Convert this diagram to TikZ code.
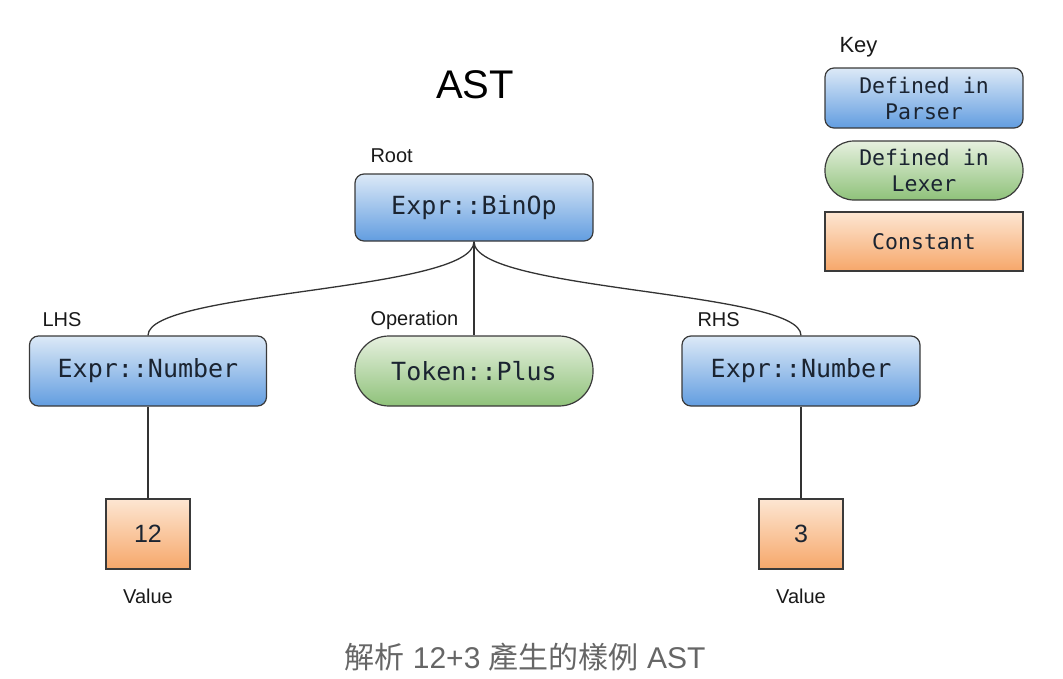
\documentclass[tikz,border=0pt]{standalone}
\usepackage{fontspec}
\setmainfont{Liberation Sans}
\setmonofont{DejaVu Sans Mono}
\newfontfamily\cjkfont{Noto Sans CJK TC}
\definecolor{bordergray}{HTML}{3A3A3A}
\definecolor{linegray}{HTML}{333333}
\definecolor{bluetop}{HTML}{DCE9F7}
\definecolor{bluebot}{HTML}{629DE0}
\definecolor{greentop}{HTML}{E6F0DF}
\definecolor{greenbot}{HTML}{8FC27A}
\definecolor{orangetop}{HTML}{FDE6D2}
\definecolor{orangebot}{HTML}{F6A76A}
\definecolor{textdark}{HTML}{1B2431}
\definecolor{captiongray}{HTML}{666666}
\tikzset{
  boxbase/.style={draw=bordergray, line width=1.2pt, inner sep=0pt, text=textdark, align=center},
  parserbox/.style={boxbase, rounded corners=9pt, top color=bluetop, bottom color=bluebot},
  lexerbox/.style={boxbase, rounded corners=29pt, top color=greentop, bottom color=greenbot},
  constbox/.style={boxbase, top color=orangetop, bottom color=orangebot},
  bigmono/.style={font=\ttfamily\fontsize{25}{28}\selectfont},
  keymono/.style={font=\ttfamily\fontsize{21.5}{26}\selectfont},
  lbl/.style={font=\fontsize{20}{24}\selectfont, text=black!90},
  conn/.style={draw=linegray, line width=1.3pt}
}
\begin{document}
\begin{tikzpicture}[x=1pt,y=-1pt]
\useasboundingbox (0,0) rectangle (1063,678);
\node[font=\fontsize{40}{44}\selectfont] (title) at (475,85) {AST};
% Key
\node[lbl, anchor=west, font=\fontsize{22}{26}\selectfont] (keylbl) at (836,47) {Key};
\node[parserbox, keymono, minimum width=198pt, minimum height=60pt] (kparser) at (924,98) {Defined in\\Parser};
\node[lexerbox, keymono, minimum width=198pt, minimum height=59pt] (klexer) at (924,170.5) {Defined in\\Lexer};
\node[constbox, keymono, minimum width=198pt, minimum height=59pt] (kconst) at (924,241.5) {Constant};
% tree
\node[parserbox, bigmono, minimum width=238pt, minimum height=67pt] (binop) at (474,207.5) {Expr::BinOp};
\node[lbl, anchor=west] (rootlbl) at (367,156) {Root};
\node[parserbox, bigmono, minimum width=237pt, minimum height=70pt] (lhs) at (148,371) {Expr::Number};
\node[lexerbox, bigmono, rounded corners=34pt, minimum width=238pt, minimum height=70pt] (plus) at (474,371) {Token::Plus};
\node[parserbox, bigmono, minimum width=238pt, minimum height=70pt] (rhs) at (801,371) {Expr::Number};
\node[lbl, anchor=west] (lhslbl) at (39,320) {LHS};
\node[lbl, anchor=west] (oplbl) at (367,320) {Operation};
\node[lbl, anchor=west] (rhslbl) at (694,320) {RHS};
\node[constbox, font=\fontsize{25}{28}\selectfont, minimum width=84pt, minimum height=70pt] (n12) at (148,534) {12};
\node[constbox, font=\fontsize{25}{28}\selectfont, minimum width=84pt, minimum height=70pt] (n3) at (801,534) {3};
\node[lbl] (val1) at (148,596) {Value};
\node[lbl] (val2) at (801,596) {Value};
% connectors
\draw[conn] (binop.south) .. controls +(0,50) and +(0,-45) .. (lhs.north);
\draw[conn] (binop.south) -- (plus.north);
\draw[conn] (binop.south) .. controls +(0,50) and +(0,-45) .. (rhs.north);
\draw[conn] (lhs.south) -- (n12.north);
\draw[conn] (rhs.south) -- (n3.north);
% caption
\node[font=\fontsize{30}{35}\selectfont, text=captiongray] (caption) at (525,657) {{\cjkfont 解析} 12+3 {\cjkfont 產生的樣例} AST};
\end{tikzpicture}
\end{document}
